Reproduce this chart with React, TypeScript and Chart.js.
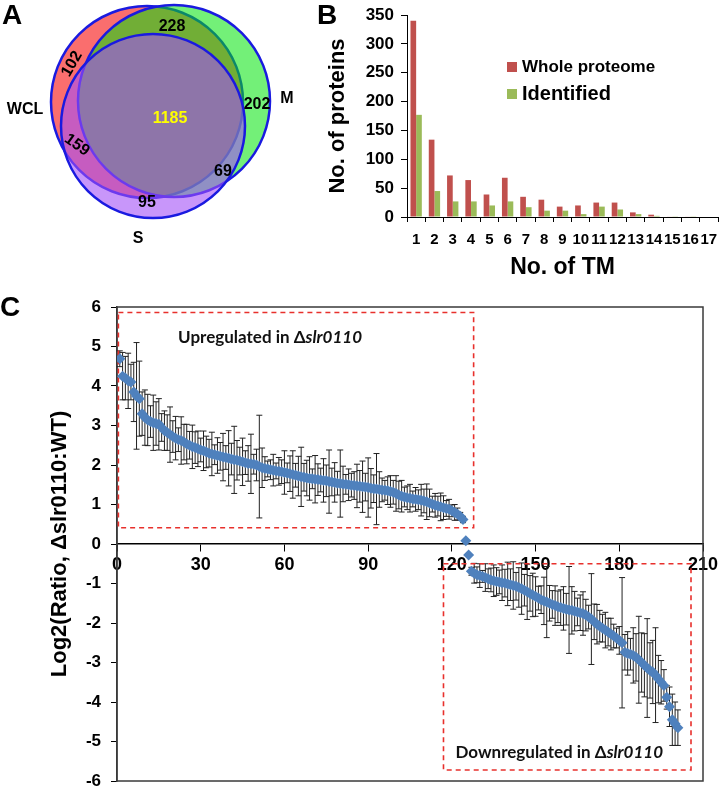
import React, { useEffect, useRef } from 'react';
import { Chart, registerables } from 'chart.js';

Chart.register(...registerables);
Chart.defaults.font.family = '"Liberation Sans", Arial, sans-serif';
Chart.defaults.color = '#000';

// ---------------- Panel A data (Venn) ----------------
const vennSetNames = ['WCL', 'M', 'S'];
const vennRegionCounts = [102, 228, 202, 159, 1185, 69, 95];

// ---------------- Panel B data ----------------
const tmCategories = ['1', '2', '3', '4', '5', '6', '7', '8', '9', '10', '11', '12', '13', '14', '15', '16', '17'];
const wholeProteome = [340, 134, 72, 64, 39, 68, 35, 30, 18, 20, 25, 25, 8, 4, 1, 1, 0];
const identified = [177, 45, 27, 27, 20, 27, 17, 11, 11, 5, 18, 13, 5, 2, 0.5, 0.5, 0];
const tmYTicks = [0, 50, 100, 150, 200, 250, 300, 350];

// ---------------- Panel C data ----------------
const upregulatedRatios = [
  4.69, 4.25, 4.20, 4.13, 4.10, 3.85, 3.75, 3.68, 3.30, 3.20,
  3.14, 3.10, 3.07, 3.05, 3.03, 2.95, 2.87, 2.82, 2.77, 2.72,
  2.68, 2.64, 2.62, 2.58, 2.53, 2.50, 2.46, 2.44, 2.41, 2.38,
  2.36, 2.33, 2.30, 2.28, 2.26, 2.24, 2.22, 2.20, 2.19, 2.17,
  2.15, 2.13, 2.12, 2.10, 2.08, 2.06, 2.04, 2.03, 2.02, 2.00,
  1.96, 1.93, 1.91, 1.90, 1.88, 1.87, 1.85, 1.84, 1.83, 1.81,
  1.80, 1.78, 1.76, 1.74, 1.72, 1.70, 1.69, 1.67, 1.66, 1.65,
  1.64, 1.63, 1.62, 1.61, 1.60, 1.58, 1.57, 1.56, 1.54, 1.53,
  1.52, 1.51, 1.50, 1.49, 1.48, 1.47, 1.46, 1.45, 1.44, 1.43,
  1.41, 1.40, 1.39, 1.38, 1.37, 1.36, 1.35, 1.33, 1.31, 1.28,
  1.24, 1.21, 1.19, 1.17, 1.16, 1.14, 1.13, 1.12, 1.11, 1.09,
  1.07, 1.04, 1.01, 0.98, 0.96, 0.94, 0.92, 0.90, 0.88, 0.84,
  0.80, 0.76, 0.70, 0.62,
];
const upregulatedErrors = [
  0.20, 0.60, 0.55, 0.70, 0.45, 0.75, 1.35, 0.95, 0.55, 0.70,
  0.65, 0.40, 0.70, 0.55, 0.65, 0.35, 0.50, 0.45, 0.70, 0.40,
  0.55, 0.30, 0.60, 0.45, 0.50, 0.35, 0.55, 0.40, 0.45, 0.30,
  0.50, 0.40, 0.35, 0.55, 0.25, 0.45, 0.35, 0.60, 0.30, 0.70,
  0.40, 0.85, 0.50, 0.35, 0.60, 0.30, 0.45, 0.75, 0.25, 0.40,
  1.30, 0.50, 0.30, 0.20, 0.25, 0.40, 0.20, 0.35, 0.30, 0.55,
  0.25, 0.45, 0.60, 0.30, 0.50, 0.75, 0.35, 0.45, 0.55, 0.25,
  0.60, 0.40, 0.30, 0.55, 0.40, 0.80, 0.35, 0.50, 0.30, 0.85,
  0.45, 0.25, 0.40, 0.30, 0.35, 0.55, 0.40, 0.65, 0.35, 0.75,
  0.50, 0.35, 0.90, 0.45, 0.30, 0.25, 0.35, 0.40, 0.30, 0.45,
  0.35, 0.40, 0.25, 0.30, 0.35, 0.20, 0.30, 0.25, 0.40, 0.30,
  0.45, 0.35, 0.20, 0.30, 0.25, 0.35, 0.30, 0.20, 0.25, 0.15,
  0.20, 0.15, 0.10, 0.08,
];
const transitionRatios = [0.08, -0.28];
const transitionErrors = [0, 0];
const downregulatedRatios = [
  -0.69, -0.74, -0.78, -0.80, -0.82, -0.85, -0.88, -0.91, -0.93, -0.95,
  -0.96, -0.98, -0.99, -1.01, -1.03, -1.05, -1.07, -1.10, -1.13, -1.17,
  -1.21, -1.25, -1.29, -1.33, -1.37, -1.41, -1.44, -1.47, -1.50, -1.53,
  -1.56, -1.59, -1.61, -1.63, -1.65, -1.67, -1.68, -1.70, -1.72, -1.74,
  -1.76, -1.80, -1.85, -1.90, -1.97, -2.03, -2.08, -2.13, -2.18, -2.23,
  -2.28, -2.33, -2.38, -2.44, -2.50, -2.74, -2.77, -2.79, -2.82, -2.87,
  -2.93, -3.00, -3.07, -3.14, -3.20, -3.24, -3.32, -3.42, -3.50, -3.58,
  -3.88, -4.12, -4.45, -4.55, -4.65,
];
const downregulatedErrors = [
  0.10, 0.25, 0.20, 0.30, 0.15, 0.35, 0.25, 0.30, 0.40, 0.35,
  0.30, 0.45, 0.35, 0.55, 0.40, 0.60, 0.35, 0.50, 0.65, 0.40,
  0.70, 0.45, 0.55, 0.50, 0.30, 0.35, 0.60, 0.90, 0.45, 0.35,
  0.50, 0.40, 0.45, 0.55, 0.40, 1.10, 0.60, 0.50, 0.35, 0.45,
  0.55, 0.40, 0.30, 1.15, 0.45, 0.50, 0.40, 0.35, 0.45, 0.35,
  0.40, 0.30, 0.25, 0.35, 1.65, 0.45, 0.55, 0.40, 0.70, 0.60,
  1.10, 0.75, 0.80, 1.25, 0.70, 0.80, 1.20, 0.60, 0.55, 0.40,
  0.30, 0.50, 0.65, 0.55, 0.45,
];
const ratioYTicks = [-6, -5, -4, -3, -2, -1, 0, 1, 2, 3, 4, 5, 6];
const ratioXTicks = [0, 30, 60, 90, 120, 150, 180, 210];
// highlighted regions: [xStart, xEnd, yLow, yHigh] in data units
const upBoxRange = [0.5, 127.8, 0.41, 5.86];
const downBoxRange = [117, 205.7, -5.72, -0.5];

const ratioValues = [...upregulatedRatios, ...transitionRatios, ...downregulatedRatios];
const ratioErrors = [...upregulatedErrors, ...transitionErrors, ...downregulatedErrors];

// ---------------- Layout / style constants ----------------
const FONT = '"Liberation Sans", Arial, sans-serif';
const CAL = 'Lato, "Open Sans", sans-serif';

const VENN_GEOM = [
  { x: 147, y: 102, r: 96 },
  { x: 174, y: 101, r: 96 },
  { x: 153, y: 126, r: 92 },
];
const VENN_FILLS = ['rgba(247,13,13,0.6)', 'rgba(0,228,10,0.55)', 'rgba(163,80,247,0.6)'];
const VENN_NAME_POS = [
  { x: 25, y: 110 },
  { x: 287, y: 99 },
  { x: 138, y: 239 },
];
const VENN_COUNT_POS = [
  { x: 72, y: 64, rot: -60, color: '#000' },
  { x: 172, y: 27, rot: 0, color: '#000' },
  { x: 257, y: 105, rot: 0, color: '#000' },
  { x: 77, y: 145, rot: 35, color: '#000' },
  { x: 170, y: 119, rot: 0, color: '#ffff00' },
  { x: 223, y: 172, rot: 0, color: '#000' },
  { x: 147, y: 203, rot: 0, color: '#000' },
];

const vennLabelPlugin = {
  id: 'vennLabels',
  afterDatasetsDraw(chart: any) {
    const { ctx, scales } = chart;
    const sx = scales.x, sy = scales.y;
    ctx.save();
    ctx.textAlign = 'center';
    ctx.textBaseline = 'middle';
    ctx.font = `bold 16px ${FONT}`;
    ctx.fillStyle = '#000';
    vennSetNames.forEach((n, i) => {
      ctx.fillText(n, sx.getPixelForValue(VENN_NAME_POS[i].x), sy.getPixelForValue(VENN_NAME_POS[i].y));
    });
    vennRegionCounts.forEach((c, i) => {
      const p = VENN_COUNT_POS[i];
      ctx.save();
      ctx.translate(sx.getPixelForValue(p.x), sy.getPixelForValue(p.y));
      ctx.rotate((p.rot * Math.PI) / 180);
      ctx.fillStyle = p.color;
      ctx.fillText(String(c), 0, 0);
      ctx.restore();
    });
    ctx.restore();
  },
};

function VennChart() {
  const ref = useRef<HTMLCanvasElement>(null);
  useEffect(() => {
    const chart = new Chart(ref.current as HTMLCanvasElement, {
      type: 'bubble',
      data: {
        datasets: [
          {
            label: 'sets',
            data: VENN_GEOM.map((g) => ({ x: g.x, y: g.y, r: g.r })),
            backgroundColor: VENN_FILLS,
            borderColor: '#1a1ae0',
            borderWidth: 2.5,
            clip: false,
          } as any,
        ],
      },
      options: {
        animation: false,
        responsive: false,
        events: [],
        layout: { padding: 0, autoPadding: false },
        plugins: { legend: { display: false }, tooltip: { enabled: false } },
        scales: {
          x: { type: 'linear', display: false, min: 0, max: 320 },
          y: { type: 'linear', display: false, min: 0, max: 290, reverse: true },
        },
      } as any,
      plugins: [vennLabelPlugin],
    });
    return () => chart.destroy();
  }, []);
  return <canvas ref={ref} width={320} height={290} />;
}

const tmLegendPlugin = {
  id: 'tmLegend',
  afterDraw(chart: any) {
    const { ctx, chartArea } = chart;
    const x0 = chartArea.left + 100;
    const rows = [
      { y: 67, size: 17 },
      { y: 94, size: 20 },
    ];
    ctx.save();
    ctx.textBaseline = 'middle';
    ctx.textAlign = 'left';
    chart.data.datasets.forEach((ds: any, i: number) => {
      const r = rows[i];
      ctx.fillStyle = ds.backgroundColor;
      ctx.fillRect(x0, r.y - 5, 10, 10);
      ctx.fillStyle = '#000';
      ctx.font = `bold ${r.size}px ${FONT}`;
      ctx.fillText(ds.label, x0 + 15, r.y);
    });
    ctx.restore();
  },
};

function TmChart() {
  const ref = useRef<HTMLCanvasElement>(null);
  useEffect(() => {
    const chart = new Chart(ref.current as HTMLCanvasElement, {
      type: 'bar',
      data: {
        labels: tmCategories,
        datasets: [
          { label: 'Whole proteome', data: wholeProteome, backgroundColor: '#c0504d', categoryPercentage: 0.62, barPercentage: 1 },
          { label: 'Identified', data: identified, backgroundColor: '#9bbb59', categoryPercentage: 0.62, barPercentage: 1 },
        ],
      },
      options: {
        animation: false,
        responsive: false,
        events: [],
        layout: { padding: { top: 15, right: 2, left: 0, bottom: 0 }, autoPadding: false },
        plugins: { legend: { display: false }, tooltip: { enabled: false } },
        scales: {
          x: {
            grid: { display: true, drawOnChartArea: false, offset: true, tickLength: 5, tickColor: '#000', tickWidth: 1 },
            border: { color: '#000', width: 1 },
            ticks: { color: '#000', font: { weight: 'bold', size: 15 }, padding: 9, maxRotation: 0, autoSkip: false },
            title: { display: true, text: 'No. of TM', color: '#000', font: { weight: 'bold', size: 23 }, padding: { top: 0, bottom: 9 } },
            afterFit: (s: any) => {
              s.height = 73;
              s.paddingLeft = 0;
              s.paddingRight = 0;
            },
          },
          y: {
            min: 0,
            max: 350,
            afterBuildTicks: (s: any) => {
              s.ticks = tmYTicks.map((v) => ({ value: v }));
            },
            ticks: { color: '#000', font: { weight: 'bold', size: 17 }, padding: 7 },
            grid: { drawOnChartArea: false, tickLength: 6, tickColor: '#000' },
            border: { color: '#000', width: 1 },
            title: { display: true, text: 'No. of proteins', color: '#000', font: { weight: 'bold', size: 22 }, padding: { top: 5, bottom: 0 } },
            afterFit: (s: any) => {
              s.width = 87;
              s.paddingTop = 0;
              s.paddingBottom = 0;
            },
          },
        },
      } as any,
      plugins: [tmLegendPlugin],
    });
    return () => chart.destroy();
  }, []);
  return <canvas ref={ref} width={400} height={290} />;
}

const ratioDecorPlugin = {
  id: 'ratioDecor',
  beforeDatasetsDraw(chart: any) {
    const { ctx, scales, chartArea } = chart;
    const sx = scales.x, sy = scales.y;
    ctx.save();
    // plot frame
    ctx.strokeStyle = '#3a3a3a';
    ctx.lineWidth = 1.5;
    ctx.strokeRect(chartArea.left, chartArea.top, chartArea.right - chartArea.left, chartArea.bottom - chartArea.top);
    // error bars
    ctx.strokeStyle = '#222';
    ctx.lineWidth = 1;
    ratioValues.forEach((v, i) => {
      const e = ratioErrors[i];
      if (!e) return;
      const px = sx.getPixelForValue(i + 1);
      const t = sy.getPixelForValue(v + e);
      const b = sy.getPixelForValue(v - e);
      ctx.beginPath();
      ctx.moveTo(px, t);
      ctx.lineTo(px, b);
      ctx.moveTo(px - 3, t);
      ctx.lineTo(px + 3, t);
      ctx.moveTo(px - 3, b);
      ctx.lineTo(px + 3, b);
      ctx.stroke();
    });
    // dashed highlight boxes
    ctx.strokeStyle = '#e8302c';
    ctx.lineWidth = 1.6;
    ctx.setLineDash([5, 4]);
    [upBoxRange, downBoxRange].forEach((bx) => {
      const x1 = sx.getPixelForValue(bx[0]);
      const x2 = sx.getPixelForValue(bx[1]);
      const y1 = sy.getPixelForValue(bx[3]);
      const y2 = sy.getPixelForValue(bx[2]);
      ctx.strokeRect(x1, y1, x2 - x1, y2 - y1);
    });
    ctx.setLineDash([]);
    // annotations
    const notes = [
      { x: 21.9, y: 5.22, lead: 'Upregulated in \u0394', size: 17 },
      { x: 121.3, y: -5.29, lead: 'Downregulated in \u0394', size: 17 },
    ];
    ctx.fillStyle = '#111';
    ctx.textBaseline = 'middle';
    ctx.textAlign = 'left';
    notes.forEach((n) => {
      let cx = sx.getPixelForValue(n.x);
      const cy = sy.getPixelForValue(n.y);
      ctx.font = `bold ${n.size}px ${CAL}`;
      ctx.fillText(n.lead, cx, cy);
      cx += ctx.measureText(n.lead).width;
      ctx.font = `italic bold ${n.size}px ${CAL}`;
      ctx.fillText('slr0110', cx, cy);
    });
    ctx.restore();
  },
};

function RatioChart() {
  const ref = useRef<HTMLCanvasElement>(null);
  useEffect(() => {
    const chart = new Chart(ref.current as HTMLCanvasElement, {
      type: 'scatter',
      data: {
        datasets: [
          {
            label: 'Log2 ratio',
            data: ratioValues.map((v, i) => ({ x: i + 1, y: v })),
            pointStyle: 'rectRot',
            pointRadius: 5.5,
            backgroundColor: '#4f81bd',
            borderWidth: 0,
          },
        ],
      },
      options: {
        animation: false,
        responsive: false,
        events: [],
        layout: { padding: { top: 19, right: 17, bottom: 8, left: 0 }, autoPadding: false },
        plugins: { legend: { display: false }, tooltip: { enabled: false } },
        scales: {
          x: {
            type: 'linear',
            min: 0,
            max: 210,
            position: { y: 0 },
            afterBuildTicks: (s: any) => {
              s.ticks = ratioXTicks.map((v) => ({ value: v }));
            },
            ticks: { color: '#000', font: { weight: 'bold', size: 18 }, padding: 3, maxRotation: 0 },
            grid: { drawOnChartArea: false, tickLength: 7, tickColor: '#000' },
            border: { color: '#000', width: 1.5 },
            afterFit: (s: any) => {
              s.paddingLeft = 0;
              s.paddingRight = 0;
            },
          },
          y: {
            type: 'linear',
            min: -6,
            max: 6,
            afterBuildTicks: (s: any) => {
              s.ticks = ratioYTicks.map((v) => ({ value: v }));
            },
            ticks: { color: '#000', font: { weight: 'bold', size: 17 }, padding: 10 },
            grid: { drawOnChartArea: false, tickLength: 6, tickColor: '#000' },
            border: { color: '#3a3a3a', width: 1.5 },
            title: {
              display: true,
              text: 'Log2(Ratio, \u0394slr0110:WT)',
              color: '#000',
              font: { weight: 'bold', size: 22 },
              padding: { top: 47, bottom: 0 },
            },
            afterFit: (s: any) => {
              s.width = 117;
              s.paddingTop = 0;
              s.paddingBottom = 0;
            },
          },
        },
      } as any,
      plugins: [ratioDecorPlugin],
    });
    return () => chart.destroy();
  }, []);
  return <canvas ref={ref} width={720} height={501} />;
}

const letterStyle: React.CSSProperties = {
  position: 'absolute',
  fontFamily: FONT,
  fontWeight: 'bold',
  fontSize: 28,
  lineHeight: '28px',
  color: '#000',
};

export default function App() {
  return (
    <div style={{ position: 'absolute', left: 0, top: 0, width: 720, height: 789, background: '#fff', overflow: 'hidden' }}>
      <div style={{ position: 'absolute', left: 0, top: 0 }}>
        <VennChart />
      </div>
      <div style={{ position: 'absolute', left: 320, top: 0 }}>
        <TmChart />
      </div>
      <div style={{ position: 'absolute', left: 0, top: 288 }}>
        <RatioChart />
      </div>
      <div style={{ ...letterStyle, left: 2, top: 1 }}>A</div>
      <div style={{ ...letterStyle, left: 317, top: 1 }}>B</div>
      <div style={{ ...letterStyle, left: 0, top: 293 }}>C</div>
    </div>
  );
}
